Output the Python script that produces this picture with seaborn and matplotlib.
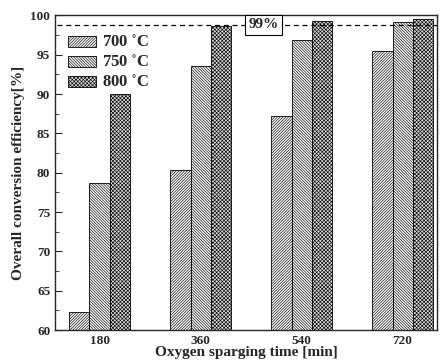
import numpy as np
import pandas as pd
import matplotlib
matplotlib.use('Agg')
import matplotlib.pyplot as plt
import seaborn as sns

times = ['180', '360', '540', '720']
temps = ['700 $^{\\circ}$C', '750 $^{\\circ}$C', '800 $^{\\circ}$C']
eff_700 = [62.3, 80.3, 87.2, 95.5]
eff_750 = [78.7, 93.5, 96.9, 99.1]
eff_800 = [90.0, 98.7, 99.3, 99.5]
target = 98.8

df = pd.DataFrame({
    'time': times * 3,
    'temp': [temps[0]] * 4 + [temps[1]] * 4 + [temps[2]] * 4,
    'eff': eff_700 + eff_750 + eff_800,
})

sns.set_style('ticks')
plt.rcParams['font.family'] = ['Liberation Serif', 'DejaVu Serif']
plt.rcParams['hatch.linewidth'] = 0.45
plt.rcParams['mathtext.fontset'] = 'stix'

fig = plt.figure(figsize=(4.41, 3.64), dpi=100)
ax = fig.add_axes([0.125, 0.093, 0.866, 0.865])

sns.barplot(data=df, x='time', y='eff', hue='temp', hue_order=temps,
            palette=['white', 'white', '#dcdcdc'], width=0.6,
            edgecolor='black', linewidth=0.6, legend=False, ax=ax)

hatches = ['/' * 12, '\\' * 12, 'x' * 9]
for cont, h in zip(ax.containers, hatches):
    for p in cont.patches:
        p.set_hatch(h)

ax.axhline(target, xmin=0.005, color='black', ls='--', lw=0.9, dashes=(4, 3))
ax.text(1.62, target, '99%', ha='center', va='center', fontsize=11, fontweight='bold',
        bbox=dict(facecolor='white', edgecolor='black', linewidth=0.8, pad=2.5))

ax.set_ylim(60, 100)
ax.set_xlim(-0.44, 3.34)
ax.set_yticks(np.arange(60, 101, 5))
ax.set_yticks(np.arange(60, 100, 2.5), minor=True)
ax.tick_params(axis='y', which='both', direction='in', labelsize=9.5)
ax.tick_params(axis='y', which='major', length=5)
ax.tick_params(axis='y', which='minor', length=3)
ax.tick_params(axis='x', length=0, labelsize=9.5)
for lab in ax.get_xticklabels() + ax.get_yticklabels():
    lab.set_fontweight('bold')

ax.set_xlabel('Oxygen sparging time [min]', fontsize=11, fontweight='bold', labelpad=-1)
ax.set_ylabel('Overall conversion efficiency[%]', fontsize=11, fontweight='bold', labelpad=4)

for s in ax.spines.values():
    s.set_linewidth(1.0)

handles = [c.patches[0] for c in ax.containers]
ax.legend(handles, temps, loc='upper left', bbox_to_anchor=(-0.005, 0.985), frameon=False,
          handlelength=1.65, handleheight=0.65, labelspacing=0.25, handletextpad=0.35,
          prop={'size': 12, 'weight': 'bold'})

fig.savefig('out.png', dpi=100)
